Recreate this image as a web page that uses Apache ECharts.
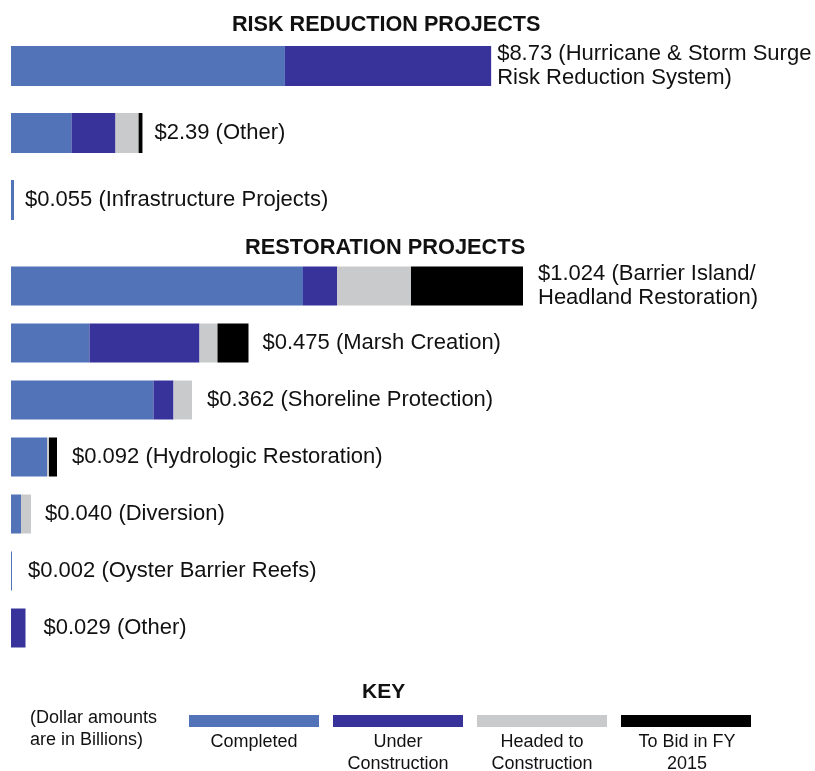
<!DOCTYPE html>
<html>
<head>
<meta charset="utf-8">
<script src="https://cdn.jsdelivr.net/npm/echarts@6/dist/echarts.min.js"></script>
<style>
html,body{margin:0;padding:0;background:#fff;}
#chart{width:815px;height:771px;}
</style>
</head>
<body>
<div id="chart"></div>
<script>
// ---- Data (billions of dollars) ----
const riskCategories = ['Hurricane & Storm Surge Risk Reduction System', 'Other', 'Infrastructure Projects'];
const riskLabels = ['$8.73 (Hurricane & Storm Surge\nRisk Reduction System)', '$2.39 (Other)', '$0.055 (Infrastructure Projects)'];
const riskTotals = [8.73, 2.39, 0.055];
const riskCompleted = [4.98, 1.10, 0.055];
const riskUnder = [3.75, 0.80, 0];
const riskHeaded = [0, 0.42, 0];
const riskToBid = [0, 0.07, 0];

const restCategories = ['Barrier Island/Headland Restoration', 'Marsh Creation', 'Shoreline Protection', 'Hydrologic Restoration', 'Diversion', 'Oyster Barrier Reefs', 'Other'];
const restLabels = ['$1.024 (Barrier Island/\nHeadland Restoration)', '$0.475 (Marsh Creation)', '$0.362 (Shoreline Protection)', '$0.092 (Hydrologic Restoration)', '$0.040 (Diversion)', '$0.002 (Oyster Barrier Reefs)', '$0.029 (Other)'];
const restTotals = [1.024, 0.475, 0.362, 0.092, 0.040, 0.002, 0.029];
const restCompleted = [0.584, 0.157, 0.285, 0.072, 0.020, 0.002, 0];
const restUnder = [0.068, 0.220, 0.040, 0, 0, 0, 0.029];
const restHeaded = [0.148, 0.036, 0.037, 0.004, 0.020, 0, 0];
const restToBid = [0.224, 0.062, 0, 0.016, 0, 0, 0];

const statusNames = ['Completed', 'Under Construction', 'Headed to Construction', 'To Bid in FY 2015'];
const keyLabels = ['Completed', 'Under\nConstruction', 'Headed to\nConstruction', 'To Bid in FY\n2015'];

// ---- Styles ----
const colors = ['#5373B9', '#38339A', '#C9CACB', '#000000'];
const riskLabelGap = [6, 12, 11];
const restLabelGap = [15, 14, 15, 15, 14, 16, 18];
const FONT = '"Liberation Sans", Arial, Helvetica, sans-serif';
const TXT = '#111111';

const chart = echarts.init(document.getElementById('chart'));

function barSeries(gridIdx, stack, values, nameIdx, bw) {
  return {
    type: 'bar', name: statusNames[nameIdx], stack: stack,
    xAxisIndex: gridIdx, yAxisIndex: gridIdx,
    barWidth: bw, data: values,
    itemStyle: { color: colors[nameIdx] },
    emphasis: { disabled: true }
  };
}
function labelSeries(gridIdx, totals, labels, gaps) {
  return {
    type: 'scatter', xAxisIndex: gridIdx, yAxisIndex: gridIdx,
    symbolSize: 0, silent: true,
    itemStyle: { opacity: 1 },
    data: totals.map((v, i) => ({ value: [v, i], label: { distance: gaps[i] } })),
    label: {
      show: true, position: 'right',
      formatter: p => labels[p.dataIndex],
      fontFamily: FONT, fontSize: 22, color: TXT, lineHeight: 24
    }
  };
}

const riskSeries = [riskCompleted, riskUnder, riskHeaded, riskToBid].map((v, i) => barSeries(0, 'risk', v, i, 40));
const restSeries = [restCompleted, restUnder, restHeaded, restToBid].map((v, i) => barSeries(1, 'rest', v, i, 39));

const keyCenters = [254, 398, 542, 687];
const graphics = keyLabels.map((t, i) => ({
  type: 'text', x: keyCenters[i], y: 731,
  style: { text: t, fontFamily: FONT, fontSize: 18, fill: TXT, textAlign: 'center', lineHeight: 22 }
}));
graphics.push({
  type: 'text', x: 30, y: 707,
  style: { text: '(Dollar amounts\nare in Billions)', fontFamily: FONT, fontSize: 18, fill: TXT, lineHeight: 22 }
});

chart.setOption({
  animation: false,
  backgroundColor: '#ffffff',
  title: [
    { text: 'RISK REDUCTION PROJECTS', left: 227, top: 9, textStyle: { fontFamily: FONT, fontSize: 21.6, fontWeight: 'bold', color: TXT } },
    { text: 'RESTORATION PROJECTS', left: 240, top: 232, textStyle: { fontFamily: FONT, fontSize: 21.8, fontWeight: 'bold', color: TXT } },
    { text: 'KEY', left: 357, top: 677, textStyle: { fontFamily: FONT, fontSize: 21, fontWeight: 'bold', color: TXT } }
  ],
  legend: {
    data: statusNames, left: 184, top: 710, itemWidth: 130, itemHeight: 12, itemGap: 14,
    icon: 'rect', formatter: () => '', selectedMode: false,
    textStyle: { fontSize: 1 }
  },
  graphic: graphics,
  grid: [
    { left: 11, top: 32.5, width: 770, height: 201 },
    { left: 11, top: 257.5, width: 750, height: 399 }
  ],
  xAxis: [
    { type: 'value', gridIndex: 0, min: 0, max: 14, show: false },
    { type: 'value', gridIndex: 1, min: 0, max: 1.5, show: false }
  ],
  yAxis: [
    { type: 'category', gridIndex: 0, data: riskCategories, inverse: true, show: false },
    { type: 'category', gridIndex: 1, data: restCategories, inverse: true, show: false }
  ],
  series: riskSeries.concat(restSeries, [labelSeries(0, riskTotals, riskLabels, riskLabelGap), labelSeries(1, restTotals, restLabels, restLabelGap)])
});
</script>
</body>
</html>
